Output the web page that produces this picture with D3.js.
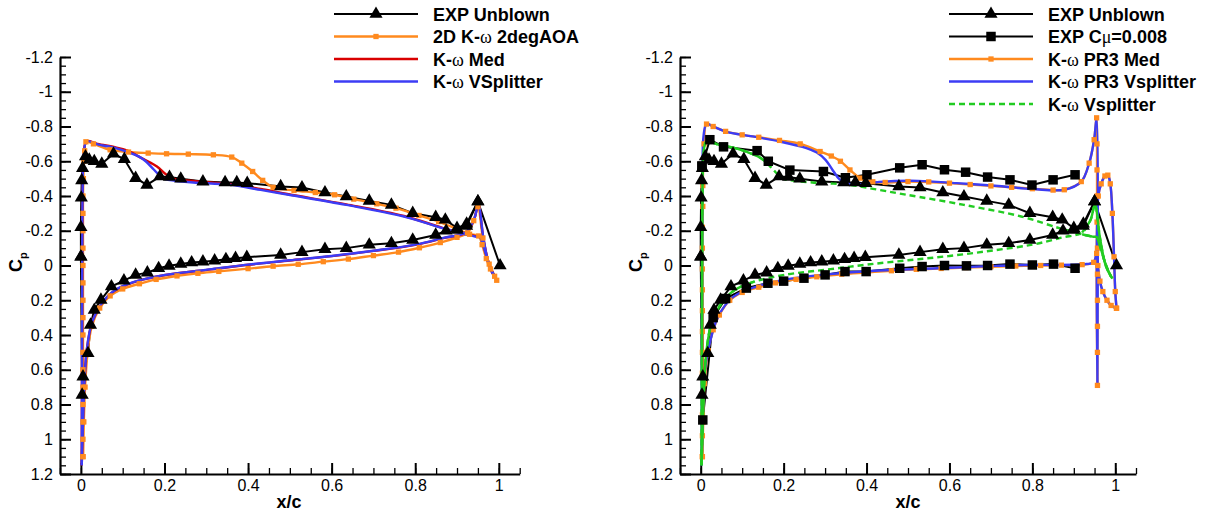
<!DOCTYPE html>
<html>
<head>
<meta charset="utf-8">
<script src="https://cdn.jsdelivr.net/npm/d3@7"></script>
<style>
body { margin: 0; background: #fff; }
svg { display: block; }
</style>
</head>
<body>
<div id="chart"></div>
<script>
// ---- data: [x/c, Cp] ----
// experiment, unblown (same in both panels)
var expUpper = [[0.000,-0.05],[0.000,-0.22],[0.001,-0.39],[0.002,-0.49],[0.004,-0.56],[0.011,-0.627],[0.020,-0.608],[0.032,-0.600],[0.050,-0.585],[0.078,-0.643],[0.104,-0.612],[0.131,-0.503],[0.158,-0.464],[0.189,-0.512],[0.212,-0.509],[0.239,-0.499],[0.292,-0.483],[0.345,-0.478],[0.373,-0.478],[0.398,-0.474],[0.478,-0.455],[0.529,-0.449],[0.584,-0.420],[0.635,-0.397],[0.690,-0.372],[0.743,-0.349],[0.794,-0.301],[0.849,-0.278],[0.872,-0.263],[0.900,-0.215],[0.923,-0.240],[0.950,-0.368],[1.003,0.000]];
var expLower = [[0.000,-0.05],[0.003,0.745],[0.005,0.640],[0.017,0.505],[0.023,0.342],[0.032,0.256],[0.048,0.198],[0.073,0.121],[0.103,0.087],[0.131,0.054],[0.159,0.041],[0.186,0.016],[0.211,0.002],[0.239,-0.009],[0.265,-0.017],[0.292,-0.022],[0.320,-0.028],[0.347,-0.036],[0.370,-0.042],[0.397,-0.048],[0.478,-0.061],[0.529,-0.077],[0.584,-0.094],[0.635,-0.100],[0.690,-0.119],[0.743,-0.128],[0.794,-0.147],[0.849,-0.176],[0.874,-0.200],[0.900,-0.205],[0.923,-0.228],[0.950,-0.368]];

// experiment, Cmu = 0.008
var cmuUpper = [[0.003,-0.572],[0.022,-0.724],[0.055,-0.683],[0.136,-0.661],[0.163,-0.600],[0.215,-0.549],[0.296,-0.541],[0.349,-0.505],[0.401,-0.522],[0.480,-0.562],[0.534,-0.580],[0.588,-0.551],[0.639,-0.537],[0.692,-0.509],[0.746,-0.493],[0.799,-0.463],[0.850,-0.493],[0.903,-0.522]];
var cmuLower = [[0.003,-0.572],[0.005,0.889],[0.030,0.300],[0.060,0.190],[0.110,0.130],[0.162,0.102],[0.200,0.090],[0.249,0.073],[0.300,0.054],[0.348,0.035],[0.399,0.035],[0.480,0.016],[0.534,0.006],[0.588,0.000],[0.641,0.002],[0.692,0.000],[0.746,-0.008],[0.800,-0.003],[0.851,-0.008],[0.903,0.016]];

// 2D K-w 2degAOA
var o2dUpper = [[0.005,1.10],[0.005,1.00],[0.005,0.90],[0.005,0.80],[0.005,0.70],[0.005,0.60],[0.005,0.50],[0.005,0.40],[0.005,0.30],[0.005,0.20],[0.005,0.10],[0.005,0.00],[0.005,-0.10],[0.005,-0.20],[0.005,-0.30],[0.005,-0.40],[0.006,-0.50],[0.007,-0.60],[0.009,-0.66],[0.012,-0.712],[0.030,-0.700],[0.070,-0.666],[0.114,-0.653],[0.161,-0.647],[0.205,-0.643],[0.257,-0.641],[0.317,-0.637],[0.361,-0.624],[0.385,-0.589],[0.411,-0.541],[0.435,-0.490],[0.460,-0.450],[0.510,-0.432],[0.561,-0.420],[0.607,-0.407],[0.653,-0.382],[0.708,-0.355],[0.754,-0.330],[0.809,-0.288],[0.856,-0.253],[0.900,-0.210],[0.930,-0.180],[0.952,-0.170],[0.960,-0.120],[0.970,-0.040],[0.980,0.020],[0.995,0.085]];
var o2dLower = [[0.005,1.10],[0.007,0.90],[0.010,0.70],[0.016,0.50],[0.026,0.350],[0.045,0.245],[0.070,0.175],[0.100,0.135],[0.140,0.105],[0.180,0.080],[0.230,0.060],[0.280,0.045],[0.330,0.034],[0.400,0.018],[0.460,0.004],[0.520,-0.007],[0.580,-0.022],[0.640,-0.037],[0.700,-0.057],[0.760,-0.077],[0.810,-0.102],[0.860,-0.132],[0.900,-0.162],[0.925,-0.188],[0.940,-0.258],[0.950,-0.338],[0.962,-0.158],[0.977,-0.008],[0.990,0.062]];

// K-w Med
var medUpper = [[0.002,1.15],[0.003,0.30],[0.004,-0.40],[0.007,-0.65],[0.014,-0.716],[0.040,-0.700],[0.083,-0.680],[0.110,-0.662],[0.150,-0.612],[0.182,-0.570],[0.205,-0.522],[0.225,-0.497],[0.269,-0.487],[0.359,-0.468],[0.430,-0.440],[0.497,-0.410],[0.635,-0.352],[0.773,-0.285],[0.865,-0.217],[0.920,-0.182],[0.945,-0.168],[0.955,-0.165],[0.962,-0.122],[0.975,-0.022],[0.985,0.038],[0.993,0.073]];
var medLower = [[0.002,1.15],[0.005,0.90],[0.008,0.70],[0.014,0.488],[0.027,0.325],[0.050,0.218],[0.083,0.141],[0.129,0.094],[0.202,0.055],[0.313,0.022],[0.400,-0.004],[0.500,-0.029],[0.600,-0.054],[0.700,-0.084],[0.800,-0.119],[0.870,-0.159],[0.920,-0.189],[0.940,-0.258],[0.951,-0.348],[0.963,-0.158],[0.977,0.002],[0.990,0.067]];

// K-w VSplitter (unblown) - left blue, right green
var vsUpper = [[0.002,1.15],[0.003,0.30],[0.004,-0.40],[0.007,-0.65],[0.014,-0.714],[0.040,-0.697],[0.083,-0.676],[0.110,-0.655],[0.138,-0.628],[0.155,-0.600],[0.175,-0.551],[0.190,-0.515],[0.202,-0.497],[0.225,-0.488],[0.269,-0.478],[0.359,-0.464],[0.430,-0.435],[0.497,-0.407],[0.635,-0.349],[0.773,-0.282],[0.865,-0.215],[0.920,-0.180],[0.945,-0.166],[0.955,-0.163],[0.962,-0.120],[0.975,-0.020],[0.985,0.040],[0.993,0.075]];
var vsLower = [[0.002,1.15],[0.005,0.90],[0.008,0.70],[0.014,0.486],[0.027,0.323],[0.050,0.217],[0.083,0.140],[0.129,0.093],[0.202,0.054],[0.313,0.021],[0.400,-0.005],[0.500,-0.030],[0.600,-0.055],[0.700,-0.085],[0.800,-0.120],[0.870,-0.160],[0.920,-0.190],[0.940,-0.260],[0.951,-0.350],[0.963,-0.160],[0.977,0.000],[0.990,0.065]];

// K-w PR3 Med (blown)
var pr3mUpper = [[0.004,1.10],[0.004,0.98],[0.004,0.86],[0.004,0.74],[0.004,0.62],[0.004,0.50],[0.004,0.38],[0.004,0.26],[0.004,0.14],[0.004,0.02],[0.004,-0.10],[0.004,-0.22],[0.005,-0.34],[0.005,-0.46],[0.006,-0.58],[0.008,-0.70],[0.014,-0.814],[0.030,-0.800],[0.060,-0.772],[0.100,-0.752],[0.140,-0.738],[0.190,-0.720],[0.240,-0.700],[0.288,-0.656],[0.315,-0.630],[0.337,-0.600],[0.360,-0.550],[0.385,-0.503],[0.415,-0.482],[0.445,-0.478],[0.500,-0.483],[0.550,-0.481],[0.600,-0.474],[0.650,-0.466],[0.700,-0.458],[0.750,-0.450],[0.800,-0.442],[0.850,-0.434],[0.877,-0.436],[0.918,-0.483],[0.937,-0.589],[0.949,-0.724],[0.955,-0.850],[0.956,-0.70],[0.956,-0.55],[0.956,-0.40],[0.956,-0.25],[0.957,-0.10],[0.957,0.05],[0.957,0.20],[0.957,0.35],[0.957,0.50],[0.957,0.69],[0.959,-0.40],[0.966,-0.47],[0.975,-0.515],[0.982,-0.52],[0.988,-0.47],[0.993,-0.30],[0.997,-0.05],[1.000,0.15],[1.003,0.246]];
var pr3mLower = [[0.004,1.10],[0.006,0.90],[0.009,0.68],[0.018,0.49],[0.030,0.37],[0.045,0.285],[0.070,0.200],[0.100,0.155],[0.140,0.125],[0.180,0.100],[0.230,0.080],[0.280,0.065],[0.340,0.050],[0.400,0.040],[0.460,0.030],[0.520,0.022],[0.580,0.017],[0.640,0.012],[0.700,0.007],[0.760,0.003],[0.820,0.000],[0.870,-0.002],[0.920,-0.005],[0.948,-0.018],[0.955,-0.070],[0.958,0.000],[0.963,0.090],[0.970,0.150],[0.980,0.200],[0.990,0.230],[1.003,0.246]];

// K-w PR3 Vsplitter (blown)
var pr3vUpper = [[0.002,1.15],[0.003,0.20],[0.004,-0.50],[0.007,-0.75],[0.014,-0.816],[0.030,-0.800],[0.060,-0.771],[0.125,-0.743],[0.190,-0.714],[0.255,-0.676],[0.280,-0.650],[0.301,-0.608],[0.318,-0.550],[0.335,-0.495],[0.350,-0.472],[0.385,-0.468],[0.431,-0.481],[0.524,-0.487],[0.617,-0.474],[0.710,-0.459],[0.802,-0.440],[0.877,-0.436],[0.918,-0.483],[0.937,-0.589],[0.949,-0.724],[0.955,-0.850],[0.957,0.690],[0.959,-0.400],[0.966,-0.470],[0.975,-0.515],[0.982,-0.520],[0.988,-0.470],[0.993,-0.300],[0.997,-0.050],[1.000,0.150],[1.003,0.246]];
var pr3vLower = [[0.002,1.15],[0.005,0.90],[0.008,0.66],[0.018,0.486],[0.042,0.294],[0.079,0.179],[0.134,0.121],[0.200,0.083],[0.292,0.054],[0.431,0.029],[0.571,0.016],[0.710,0.002],[0.802,-0.003],[0.923,-0.007],[0.948,-0.020],[0.955,-0.070],[0.958,0.000],[0.963,0.090],[0.970,0.150],[0.980,0.200],[0.990,0.230],[1.003,0.246]];

// axis ticks
var xMajor = [0, 0.2, 0.4, 0.6, 0.8, 1];
var yMajor = [-1.2, -1, -0.8, -0.6, -0.4, -0.2, 0, 0.2, 0.4, 0.6, 0.8, 1, 1.2];

var leftLegend = ["EXP Unblown", "2D K-ω 2degAOA", "K-ω Med", "K-ω VSplitter"];
var rightLegend = ["EXP Unblown", "EXP Cμ=0.008", "K-ω PR3 Med", "K-ω PR3 Vsplitter", "K-ω Vsplitter"];

// ---- styles ----
var ORANGE = "#ff8a1e", RED = "#d90000", BLUE = "#3c3cf5", GREEN = "#22cc22", BLACK = "#000";
var FONT = "'Liberation Sans', Arial, sans-serif";
var SERIF = "'Liberation Serif', 'DejaVu Serif', serif";
var TRI = 75, SQ = 90, OSQ = 28;

var width = 1215, height = 514;
var svg = d3.select("#chart").append("svg")
	.attr("width", width).attr("height", height);

var y = d3.scaleLinear().domain([-1.2, 1.2]).range([57, 474]);

function fmt(d) {
	return String(+d.toFixed(2));
}

// minor tick values every 0.05 (as integer steps to avoid float drift)
function minorTicks(lo, hi) {
	return d3.range(Math.round(lo * 20), Math.round(hi * 20) + 1).map(function(i) { return i / 20; });
}

function drawAxes(x, xLabelX) {
	var g = svg.append("g");
	var x0 = x.range()[0];
	// y axis
	g.append("g").attr("transform", "translate(" + x0 + ",0)")
		.call(d3.axisLeft(y).tickValues(minorTicks(-1.2, 1.2)).tickSize(-6).tickSizeOuter(0).tickFormat(""))
		.call(function(a) { a.select(".domain").remove(); a.selectAll("line").attr("stroke-width", 1.3); });
	g.append("g").attr("transform", "translate(" + x0 + ",0)")
		.call(d3.axisLeft(y).tickValues(yMajor).tickSize(-11).tickSizeOuter(0).tickPadding(7).tickFormat(fmt))
		.call(function(a) {
			a.select(".domain").attr("stroke-width", 2.2);
			a.selectAll("line").attr("stroke-width", 2);
			a.selectAll("text").attr("font-family", FONT).attr("font-size", 16).attr("fill", BLACK);
		});
	// x axis
	g.append("g").attr("transform", "translate(0," + y(1.2) + ")")
		.call(d3.axisBottom(x).tickValues(minorTicks(-0.05, 1.05)).tickSize(-6).tickSizeOuter(0).tickFormat(""))
		.call(function(a) { a.select(".domain").remove(); a.selectAll("line").attr("stroke-width", 1.3); });
	g.append("g").attr("transform", "translate(0," + y(1.2) + ")")
		.call(d3.axisBottom(x).tickValues(xMajor).tickSize(-11).tickSizeOuter(0).tickPadding(6).tickFormat(fmt))
		.call(function(a) {
			a.select(".domain").attr("stroke-width", 2.2);
			a.selectAll("line").attr("stroke-width", 2);
			a.selectAll("text").attr("font-family", FONT).attr("font-size", 16).attr("fill", BLACK);
		});
	// axis titles
	g.append("text").attr("x", xLabelX).attr("y", 508).attr("text-anchor", "middle")
		.attr("font-family", FONT).attr("font-weight", "bold").attr("font-size", 18).text("x/c");
	var cp = g.append("text")
		.attr("transform", "translate(" + (x0 - 38) + "," + 272 + ") rotate(-90)")
		.attr("font-family", FONT).attr("font-weight", "bold").attr("font-size", 18);
	cp.append("tspan").text("C");
	cp.append("tspan").attr("font-size", 11).attr("dy", 5).text("p");
}

function curve(x, data, color, opts) {
	opts = opts || {};
	var line = d3.line()
		.x(function(d) { return x(d[0]); })
		.y(function(d) { return y(d[1]); })
		.curve(opts.linear ? d3.curveLinear : d3.curveCatmullRom.alpha(0.5));
	if (opts.defined) line.defined(opts.defined);
	svg.append("path").datum(data)
		.attr("d", line)
		.attr("fill", "none")
		.attr("stroke", color)
		.attr("stroke-width", opts.width || 2.4)
		.attr("stroke-linejoin", "round")
		.attr("stroke-dasharray", opts.dash || null);
}

function symbols(x, data, type, size, color) {
	svg.append("g").selectAll("path").data(data).enter().append("path")
		.attr("d", d3.symbol().type(type).size(size))
		.attr("transform", function(d) { return "translate(" + x(d[0]) + "," + y(d[1]) + ")"; })
		.attr("fill", color);
}

// label text with the greek letters in a serif face
function richLabel(sel, label) {
	label.split(/([ωμ])/).forEach(function(part) {
		if (part === "") return;
		var t = sel.append("tspan").text(part);
		if (part === "ω" || part === "μ") {
			t.attr("font-family", SERIF).attr("font-weight", "normal");
		}
	});
}

function legend(lx, tx, labels, styles) {
	var rowH = 22.5, y0 = 14;
	labels.forEach(function(label, i) {
		var ly = y0 + rowH * i;
		var st = styles[i];
		svg.append("line").attr("x1", lx).attr("x2", lx + 84).attr("y1", ly).attr("y2", ly)
			.attr("stroke", st.color).attr("stroke-width", st.color === BLACK ? 2 : 2.4)
			.attr("stroke-dasharray", st.dash || null);
		if (st.symbol) {
			svg.append("path").attr("d", d3.symbol().type(st.symbol).size(st.size))
				.attr("transform", "translate(" + (lx + 42) + "," + ly + ")")
				.attr("fill", st.color);
		}
		var t = svg.append("text").attr("x", tx).attr("y", ly + 6.5)
			.attr("font-family", FONT).attr("font-weight", "bold").attr("font-size", 18);
		richLabel(t, label);
	});
}

// ---- left panel ----
var xL = d3.scaleLinear().domain([-0.05, 1.05]).range([60, 519.7]);
drawAxes(xL, 289);

curve(xL, expUpper, BLACK, {linear: true, width: 2});
curve(xL, expLower, BLACK, {linear: true, width: 2});
curve(xL, o2dUpper, ORANGE);
curve(xL, o2dLower, ORANGE);
curve(xL, medUpper, RED);
curve(xL, medLower, RED);
curve(xL, vsUpper, BLUE);
curve(xL, vsLower, BLUE);
symbols(xL, o2dUpper, d3.symbolSquare, OSQ, ORANGE);
symbols(xL, o2dLower, d3.symbolSquare, OSQ, ORANGE);
symbols(xL, expUpper, d3.symbolTriangle, TRI, BLACK);
symbols(xL, expLower, d3.symbolTriangle, TRI, BLACK);

legend(334, 433, leftLegend, [
	{color: BLACK, symbol: d3.symbolTriangle, size: TRI},
	{color: ORANGE, symbol: d3.symbolSquare, size: OSQ},
	{color: RED},
	{color: BLUE}
]);

// ---- right panel ----
var xR = d3.scaleLinear().domain([-0.05, 1.05]).range([680, 1136]);
drawAxes(xR, 908);

curve(xR, expUpper, BLACK, {linear: true, width: 2});
curve(xR, expLower, BLACK, {linear: true, width: 2});
curve(xR, cmuUpper, BLACK, {linear: true, width: 2});
curve(xR, cmuLower, BLACK, {linear: true, width: 2});
curve(xR, pr3mUpper, ORANGE);
curve(xR, pr3mLower, ORANGE);
curve(xR, pr3vUpper, BLUE);
curve(xR, pr3vLower, BLUE);
symbols(xR, pr3mUpper, d3.symbolSquare, OSQ, ORANGE);
symbols(xR, pr3mLower, d3.symbolSquare, OSQ, ORANGE);
// dense mesh regions near LE / TE draw as solid, the rest dashed
var dense = function(d) { return d[0] < 0.17 || d[0] > 0.9; };
curve(xR, vsUpper, GREEN, {dash: "6,4"});
curve(xR, vsLower, GREEN, {dash: "6,4"});
curve(xR, vsUpper, GREEN, {defined: dense});
curve(xR, vsLower, GREEN, {defined: dense});
symbols(xR, expUpper, d3.symbolTriangle, TRI, BLACK);
symbols(xR, expLower, d3.symbolTriangle, TRI, BLACK);
symbols(xR, cmuUpper, d3.symbolSquare, SQ, BLACK);
symbols(xR, cmuLower, d3.symbolSquare, SQ, BLACK);

legend(949, 1048, rightLegend, [
	{color: BLACK, symbol: d3.symbolTriangle, size: TRI},
	{color: BLACK, symbol: d3.symbolSquare, size: SQ},
	{color: ORANGE, symbol: d3.symbolSquare, size: OSQ},
	{color: BLUE},
	{color: GREEN, dash: "6,4"}
]);
</script>
</body>
</html>
